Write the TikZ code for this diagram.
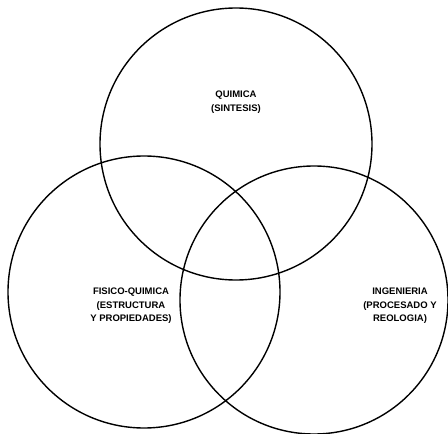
\documentclass[tikz,border=0pt]{standalone}
\usepackage{fontspec}
\setmainfont{Liberation Sans}
\begin{document}
\begin{tikzpicture}[x=1pt,y=-1pt,
  ring/.style={draw=black,line width=1.4pt,circle,minimum size=#1,inner sep=0pt},
  lab/.style={font=\bfseries\fontsize{9.5}{13.5}\selectfont,align=center,inner sep=0pt}]
\useasboundingbox (0,0) rectangle (448,434);
\node[ring=272pt] (quim) at (236,144) {};
\node[ring=272pt] (fisi) at (144,292) {};
\node[ring=268pt] (inge) at (314,300) {};
\node[lab] (tq) at (236,102) {QUIMICA\\(SINTESIS)};
\node[lab] (tf) at (131,306) {FISICO-QUIMICA\\(ESTRUCTURA\\Y PROPIEDADES)};
\node[lab] (ti) at (400,306) {INGENIERIA\\(PROCESADO Y\\REOLOGIA)};
\end{tikzpicture}
\end{document}
